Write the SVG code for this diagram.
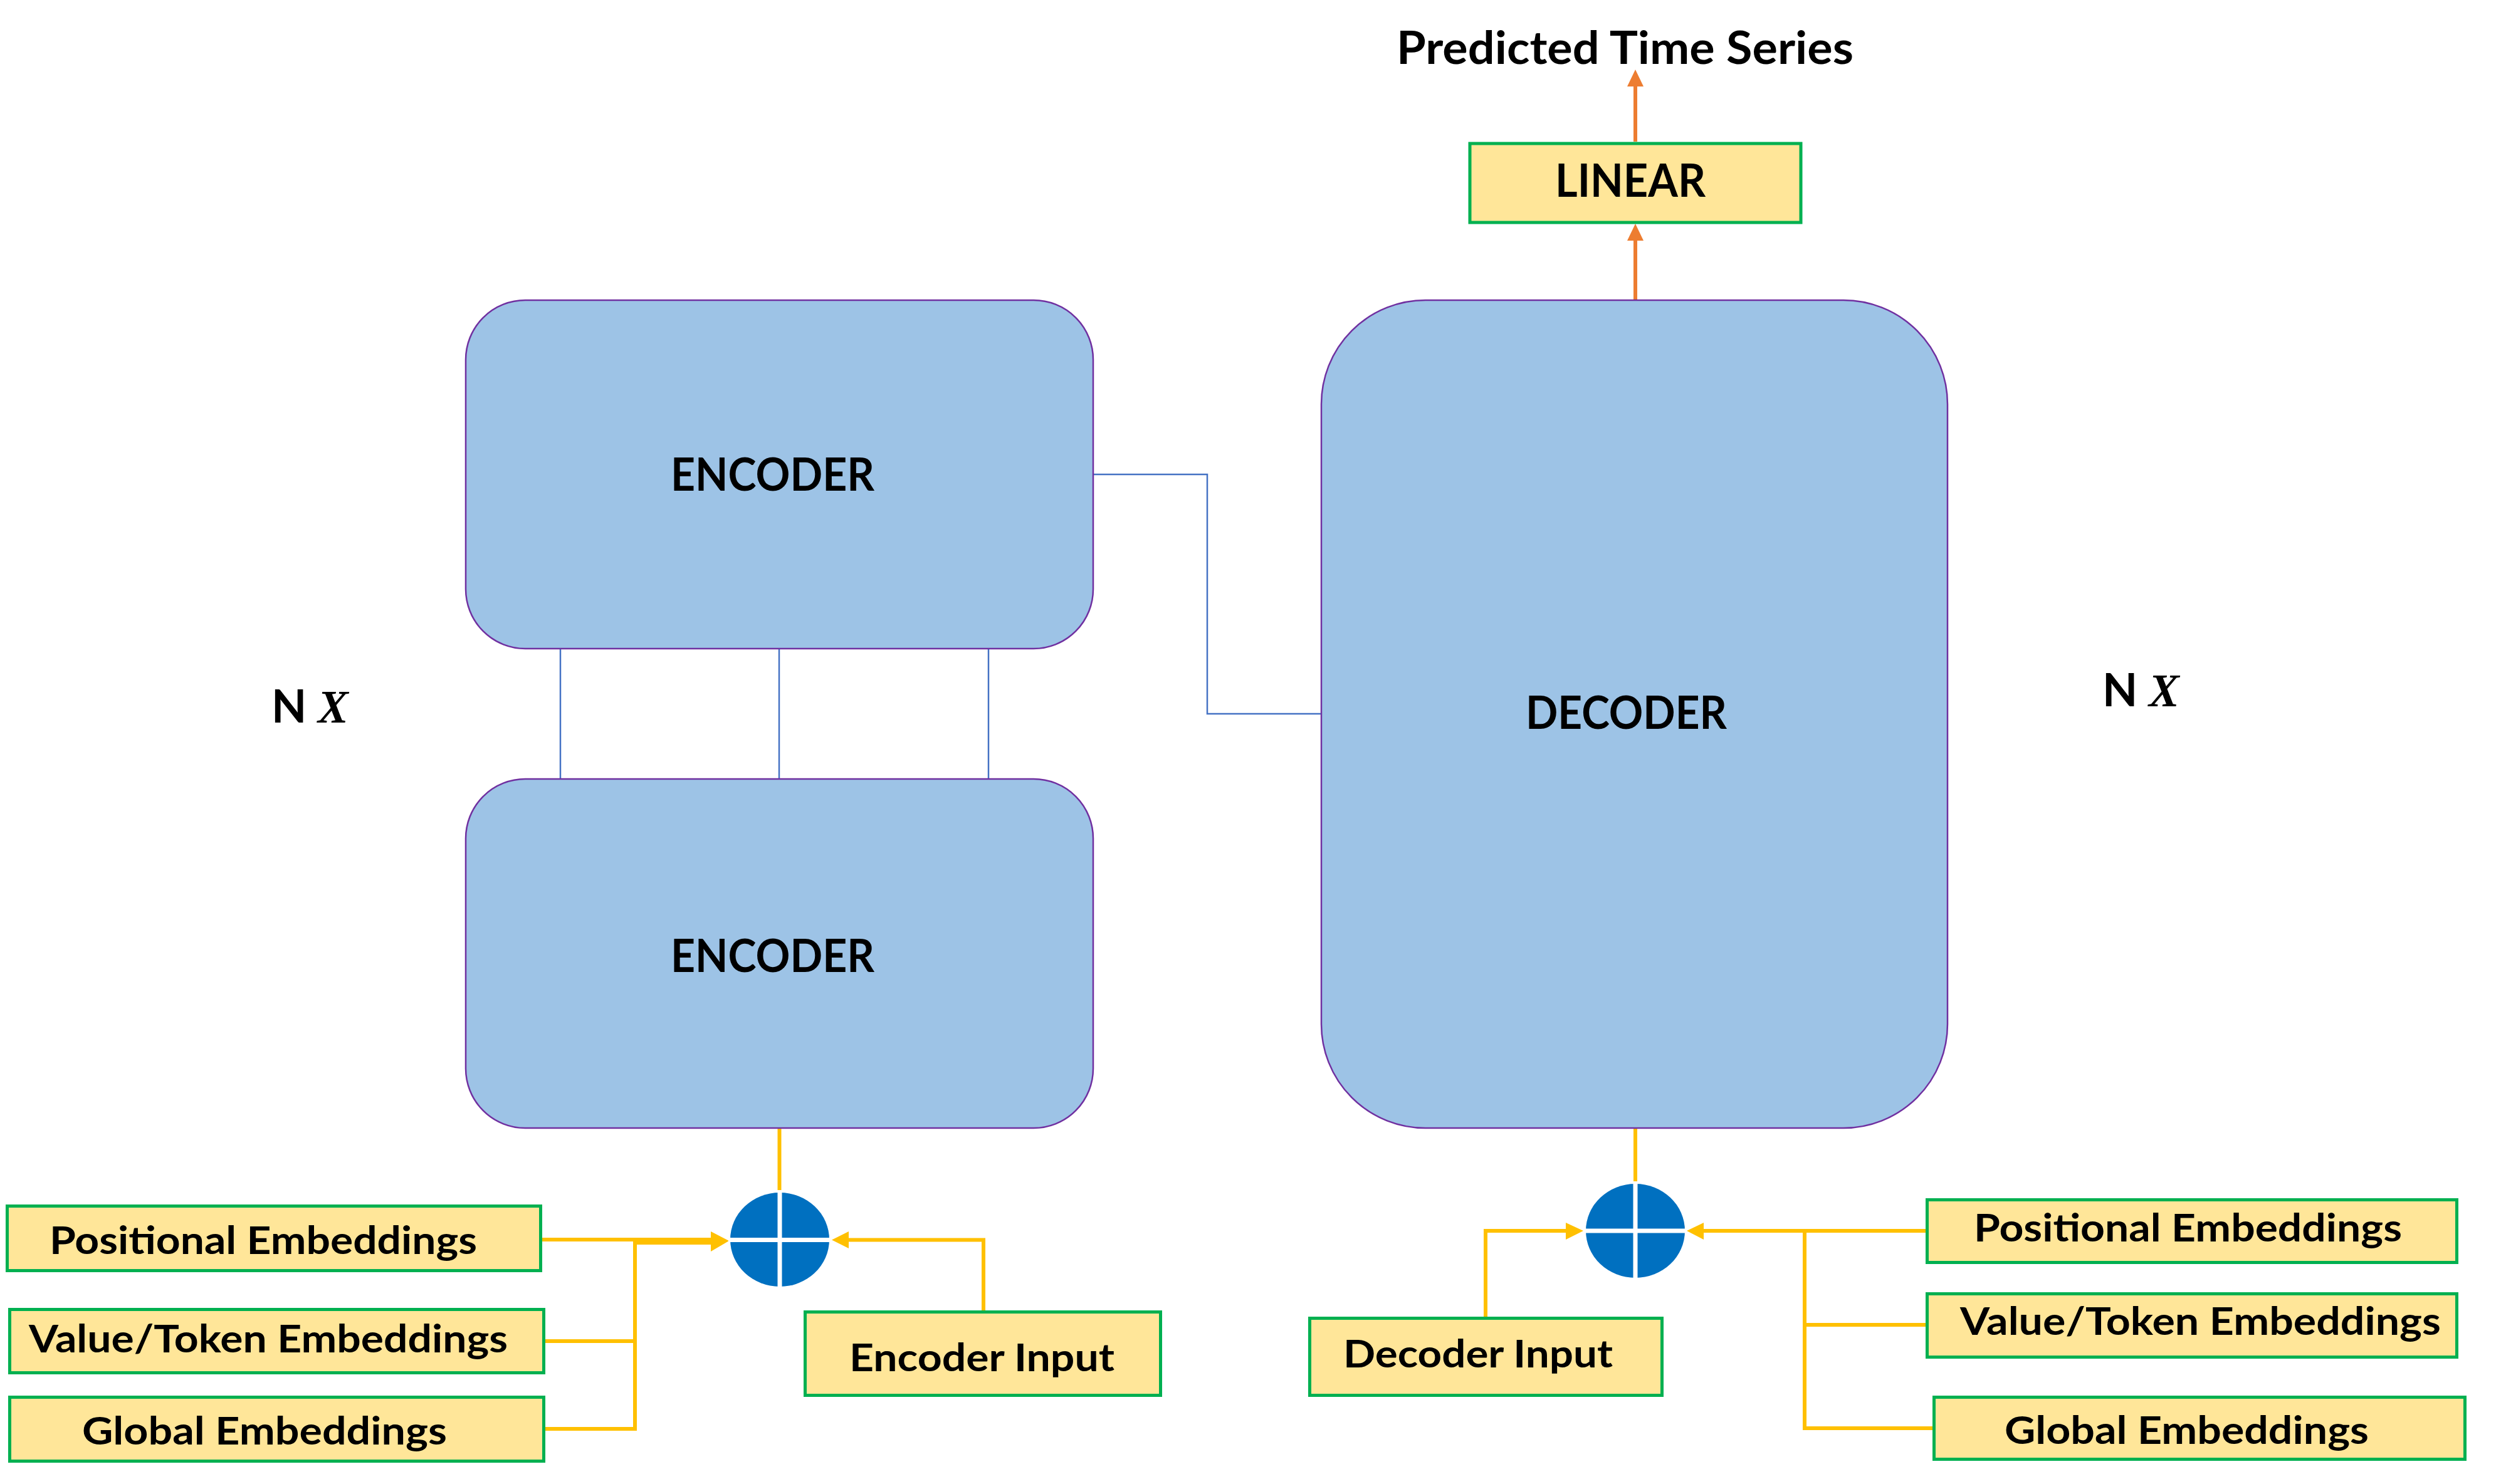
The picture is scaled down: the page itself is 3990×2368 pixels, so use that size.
<svg xmlns="http://www.w3.org/2000/svg" width="3990" height="2368" viewBox="0 0 3990 2368">
<style>
  .blk { fill: #9DC3E6; stroke: #7030A0; stroke-width: 2.5; }
  .ybox { fill: #FFE699; stroke: #00B050; stroke-width: 5; }
  .lbl { font-family: Lato, "Liberation Sans", sans-serif; font-weight: 700; fill: #000; }
  .big { font-size: 73px; }
  .sm { font-size: 62px; }
  .mx { font-family: "Liberation Serif", serif; font-style: italic; font-weight: 700; }
  .thin { fill: none; stroke: #4472C4; stroke-width: 2.5; }
  .yl { fill: none; stroke: #FFC000; stroke-width: 6; }
  .or { fill: none; stroke: #ED7D31; stroke-width: 6; }
  .wh { stroke: #FFFFFF; stroke-width: 7; }
</style>
<rect width="3990" height="2368" fill="#FFFFFF"/>

<g id="connectors">
  <line class="thin" x1="894" y1="1035" x2="894" y2="1243"/>
  <line class="thin" x1="1243" y1="1035" x2="1243" y2="1243"/>
  <line class="thin" x1="1577" y1="1035" x2="1577" y2="1243"/>
  <path class="thin" d="M1744 757 H1926 V1139 H2108"/>
  <line class="or" x1="2609" y1="479" x2="2609" y2="382"/>
  <polygon points="2596,384 2609,357 2622,384" fill="#ED7D31"/>
  <line class="or" x1="2609" y1="226" x2="2609" y2="136"/>
  <polygon points="2596,138 2609,111 2622,138" fill="#ED7D31"/>
  <line class="yl" x1="1243.5" y1="1800" x2="1243.5" y2="1899" stroke-width="7"/>
  <line class="yl" x1="865" y1="1978" x2="1136" y2="1978"/>
  <path class="yl" d="M1013 2280 V1983 H1136"/>
  <line class="yl" x1="870" y1="2140" x2="1016" y2="2140"/>
  <line class="yl" x1="870" y1="2280" x2="1016" y2="2280"/>
  <polygon points="1134,1965 1163,1980 1134,1997" fill="#FFC000"/>
  <path class="yl" d="M1569 2091 V1978.5 H1352"/>
  <polygon points="1354,1965 1327,1978.5 1354,1992" fill="#FFC000"/>
  <line class="yl" x1="2609" y1="1800" x2="2609" y2="1885" stroke-width="7"/>
  <path class="yl" d="M2370 2101 V1964 H2500"/>
  <polygon points="2498,1951 2526,1964 2498,1978" fill="#FFC000"/>
  <line class="yl" x1="3072" y1="1964" x2="2716" y2="1964" stroke-width="8"/>
  <polygon points="2718,1951 2691,1964 2718,1978" fill="#FFC000"/>
  <path class="yl" d="M2879 1964 V2279 H3083"/>
  <line class="yl" x1="2879" y1="2114" x2="3072" y2="2114"/>
</g>

<g id="encoder-top">
  <rect class="blk" x="743" y="479" width="1001" height="556" rx="95" ry="95"/>
  <text class="lbl big" x="1070" y="783" textLength="325" lengthAdjust="spacingAndGlyphs">ENCODER</text>
</g>
<g id="encoder-bottom">
  <rect class="blk" x="743" y="1243" width="1001" height="557" rx="95" ry="95"/>
  <text class="lbl big" x="1070" y="1551" textLength="325" lengthAdjust="spacingAndGlyphs">ENCODER</text>
</g>
<g id="decoder">
  <rect class="blk" x="2108" y="479" width="999" height="1321" rx="166" ry="166"/>
  <text class="lbl big" x="2434" y="1163" textLength="321" lengthAdjust="spacingAndGlyphs">DECODER</text>
</g>
<g id="linear">
  <rect class="ybox" x="2345" y="229" width="528" height="126"/>
  <text class="lbl big" x="2481" y="314" textLength="240" lengthAdjust="spacingAndGlyphs">LINEAR</text>
</g>
<g id="output-label">
  <text class="lbl big" x="2228" y="102" textLength="729" lengthAdjust="spacingAndGlyphs">Predicted Time Series</text>
</g>
<g id="nx-left">
  <text class="lbl big" x="433" y="1153">N <tspan class="mx">X</tspan></text>
</g>
<g id="nx-right">
  <text class="lbl big" x="3354" y="1127">N <tspan class="mx">X</tspan></text>
</g>

<g id="enc-sum">
  <ellipse cx="1244" cy="1978" rx="79" ry="75" fill="#0070C0"/>
  <line class="wh" x1="1244" y1="1900" x2="1244" y2="2056"/>
  <line class="wh" x1="1162" y1="1978.5" x2="1326" y2="1978.5"/>
</g>
<g id="dec-sum">
  <ellipse cx="2609" cy="1964" rx="79" ry="75" fill="#0070C0"/>
  <line class="wh" x1="2609" y1="1886" x2="2609" y2="2042"/>
  <line class="wh" x1="2527" y1="1964" x2="2691" y2="1964"/>
</g>

<g id="enc-positional">
  <rect class="ybox" x="11.5" y="1924.5" width="851" height="103"/>
  <text class="lbl sm" x="79" y="2001" textLength="682" lengthAdjust="spacingAndGlyphs">Positional Embeddings</text>
</g>
<g id="enc-value">
  <rect class="ybox" x="15.5" y="2089.5" width="852" height="101"/>
  <text class="lbl sm" x="46" y="2158" textLength="764" lengthAdjust="spacingAndGlyphs">Value/Token Embeddings</text>
</g>
<g id="enc-global">
  <rect class="ybox" x="15.5" y="2229.5" width="852" height="102"/>
  <text class="lbl sm" x="131" y="2305" textLength="582" lengthAdjust="spacingAndGlyphs">Global Embeddings</text>
</g>
<g id="encoder-input">
  <rect class="ybox" x="1284.5" y="2093.5" width="567" height="133"/>
  <text class="lbl sm" x="1355" y="2188" textLength="423" lengthAdjust="spacingAndGlyphs">Encoder Input</text>
</g>
<g id="decoder-input">
  <rect class="ybox" x="2089.5" y="2103.5" width="562" height="123"/>
  <text class="lbl sm" x="2143" y="2182" textLength="430" lengthAdjust="spacingAndGlyphs">Decoder Input</text>
</g>
<g id="dec-positional">
  <rect class="ybox" x="3074.5" y="1914.5" width="845" height="100"/>
  <text class="lbl sm" x="3149" y="1981" textLength="683" lengthAdjust="spacingAndGlyphs">Positional Embeddings</text>
</g>
<g id="dec-value">
  <rect class="ybox" x="3074.5" y="2064.5" width="845" height="101"/>
  <text class="lbl sm" x="3127" y="2130" textLength="767" lengthAdjust="spacingAndGlyphs">Value/Token Embeddings</text>
</g>
<g id="dec-global">
  <rect class="ybox" x="3085.5" y="2229.5" width="847" height="99"/>
  <text class="lbl sm" x="3198" y="2304" textLength="581" lengthAdjust="spacingAndGlyphs">Global Embeddings</text>
</g>
</svg>
